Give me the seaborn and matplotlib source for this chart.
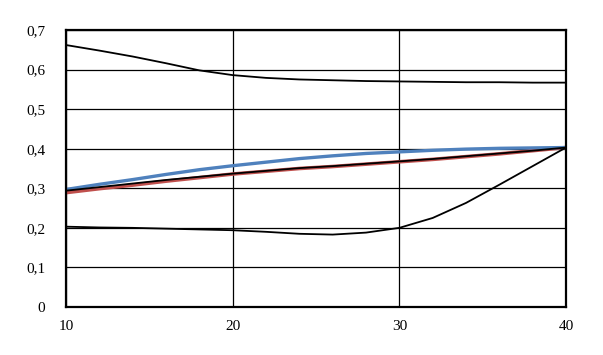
import matplotlib
matplotlib.use("Agg")
import matplotlib.pyplot as plt
import seaborn as sns

x = [10, 12, 14, 16, 18, 20, 22, 24, 26, 28, 30, 32, 34, 36, 38, 40]
top_black = [0.662, 0.648, 0.633, 0.616, 0.598, 0.586, 0.579, 0.575, 0.573, 0.571,
             0.570, 0.569, 0.568, 0.568, 0.567, 0.567]
blue = [0.297, 0.310, 0.322, 0.335, 0.347, 0.357, 0.366, 0.375, 0.382, 0.388,
        0.392, 0.396, 0.399, 0.401, 0.402, 0.403]
red = [0.289, 0.299, 0.308, 0.318, 0.327, 0.336, 0.343, 0.350, 0.355, 0.361,
       0.367, 0.373, 0.380, 0.387, 0.395, 0.403]
mid_black = [0.294, 0.303, 0.312, 0.321, 0.329, 0.337, 0.344, 0.351, 0.356, 0.362,
             0.368, 0.374, 0.381, 0.388, 0.395, 0.403]
bottom_black = [0.203, 0.201, 0.200, 0.198, 0.196, 0.194, 0.190, 0.185, 0.183, 0.188,
                0.200, 0.225, 0.263, 0.309, 0.356, 0.403]

x_ticks = [10, 20, 30, 40]
y_ticks = [0, 0.1, 0.2, 0.3, 0.4, 0.5, 0.6, 0.7]
y_labels = ["0", "0,1", "0,2", "0,3", "0,4", "0,5", "0,6", "0,7"]

sns.set_style("white")
plt.rcParams["font.family"] = ["Liberation Serif", "DejaVu Serif"]

fig = plt.figure(figsize=(6.03, 3.55), dpi=100)
ax = fig.add_axes([66 / 603, (355 - 307) / 355, 500 / 603, 277 / 355])

sns.lineplot(x=x, y=top_black, ax=ax, color="black", lw=1.3, sort=False)
sns.lineplot(x=x, y=red, ax=ax, color="#c0504d", lw=2.6, sort=False)
sns.lineplot(x=x, y=blue, ax=ax, color="#4f81bd", lw=2.4, sort=False)
sns.lineplot(x=x, y=mid_black, ax=ax, color="black", lw=1.3, sort=False)
sns.lineplot(x=x, y=bottom_black, ax=ax, color="black", lw=1.3, sort=False)

ax.set_xlim(10, 40)
ax.set_ylim(0, 0.7)
ax.set_xticks(x_ticks)
ax.set_xticklabels([str(t) for t in x_ticks])
ax.set_yticks(y_ticks)
ax.set_yticklabels(y_labels)
ax.grid(True, color="black", lw=0.9)
ax.set_axisbelow(True)
for s in ax.spines.values():
    s.set_visible(True)
    s.set_color("black")
    s.set_linewidth(1.6)
ax.tick_params(axis="both", length=0, labelsize=11, colors="black")
ax.tick_params(axis="y", pad=15)
ax.tick_params(axis="x", pad=9.5)
ax.set_xlabel("")
ax.set_ylabel("")

fig.savefig("out.png", dpi=100)
